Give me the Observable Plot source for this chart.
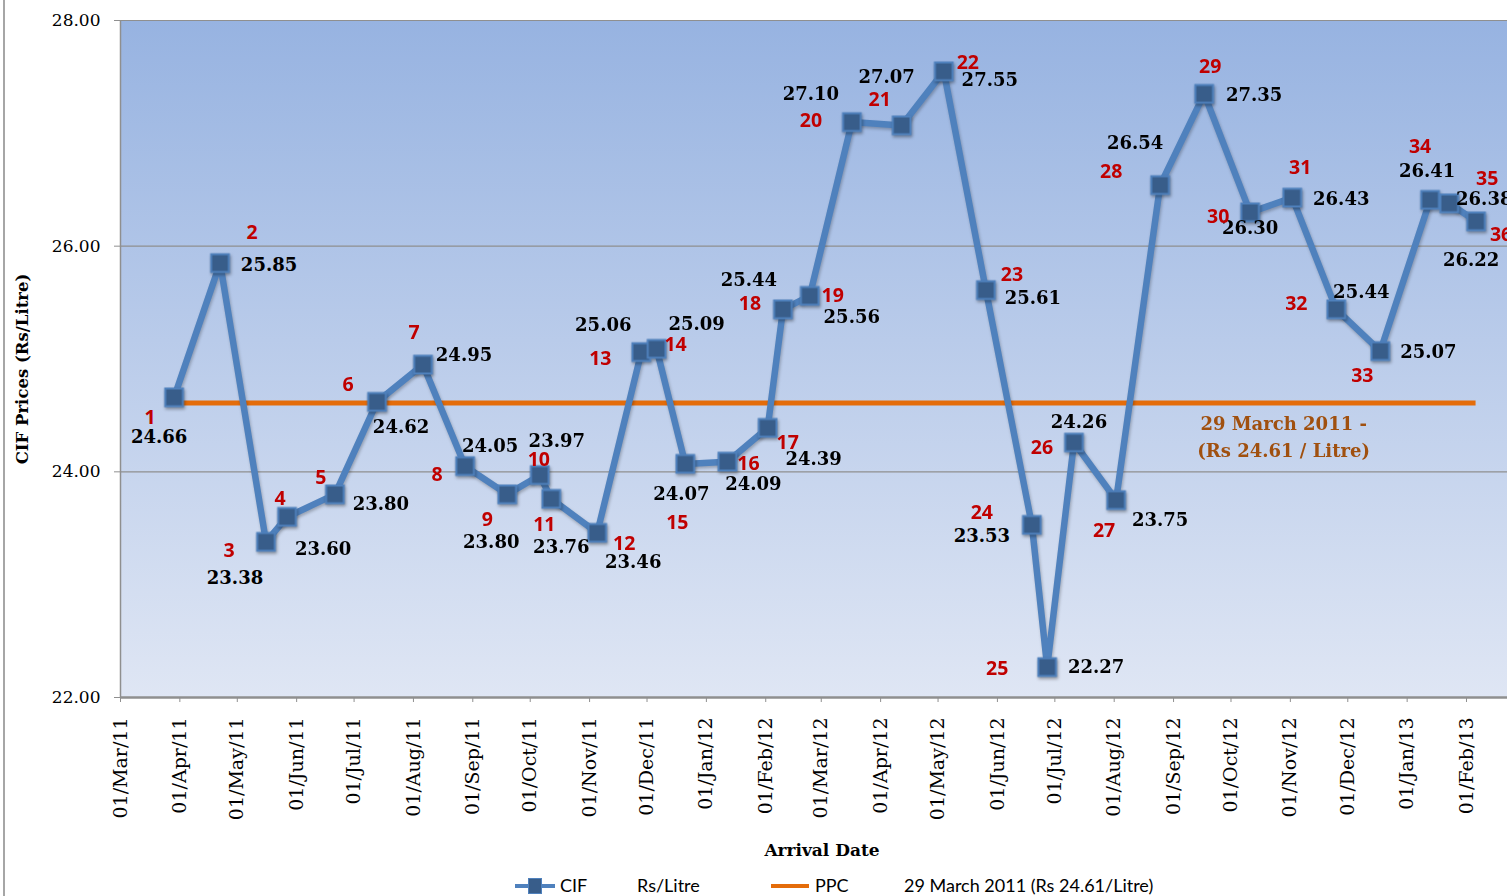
<!DOCTYPE html>
<html>
<head>
<meta charset="utf-8">
<script src="https://cdn.jsdelivr.net/npm/d3@7"></script>
<script src="https://cdn.jsdelivr.net/npm/@observablehq/plot@0.6"></script>
<style>
  html, body { margin: 0; padding: 0; background: #fff; overflow: hidden; width: 1507px; height: 896px; }
  #wrap { position: relative; width: 1507px; height: 896px; }
  #frameLine { position: absolute; left: 3px; top: 0; width: 2px; height: 896px; background: #a6a6a6; }
  #chart svg { display: block; }
  g[aria-label="dot"] { filter: drop-shadow(1.5px 2.5px 1.5px rgba(0,0,0,0.35)); }
  g[aria-label="line"] { filter: drop-shadow(1.5px 2.5px 1.5px rgba(0,0,0,0.25)); }
  #legend { position: relative; height: 24px; font-family: Lato, "Open Sans", sans-serif; font-size: 18px; color: #000; }
  #legend .it { position: absolute; top: 3px; line-height: 20px; white-space: nowrap; }
  #legend .sw-cif { position: absolute; left: 515px; top: 12px; width: 40px; height: 4px; background: #4f81bd; }
  #legend .sw-cif::after { content: ""; position: absolute; left: 13px; top: -6px; width: 12px; height: 14px; background: #385d8a; border: 1px solid #4f81bd; }
  #legend .sw-ppc { position: absolute; left: 771px; top: 12px; width: 38px; height: 4px; background: #e46c0a; }
</style>
</head>
<body>
<div id="wrap">
  <div id="chart"></div>
  <div id="legend">
    <div class="sw-cif"></div>
    <div class="it" style="left:560px">CIF</div>
    <div class="it" style="left:637px">Rs/Litre</div>
    <div class="sw-ppc"></div>
    <div class="it" style="left:815px">PPC</div>
    <div class="it" style="left:904px">29 March 2011 (Rs 24.61/Litre)</div>
  </div>
  <div id="frameLine"></div>
</div>
<script>
// ---- Data ----
const shipmentNo = [1,2,3,4,5,6,7,8,9,10,11,12,13,14,15,16,17,18,19,20,21,22,23,24,25,26,27,28,29,30,31,32,33,34,35,36];
const arrivalDates = [
  "2011-03-29","2011-04-22","2011-05-16","2011-05-27","2011-06-21","2011-07-13",
  "2011-08-06","2011-08-28","2011-09-19","2011-10-06","2011-10-12","2011-11-05",
  "2011-11-28","2011-12-06","2011-12-21","2012-01-12","2012-02-02","2012-02-10",
  "2012-02-24","2012-03-17","2012-04-12","2012-05-04","2012-05-26","2012-06-19",
  "2012-06-27","2012-07-11","2012-08-02","2012-08-25","2012-09-17","2012-10-11",
  "2012-11-02","2012-11-25","2012-12-18","2013-01-13","2013-01-23","2013-02-06"
];
const cifPrices = [
  24.66,25.85,23.38,23.60,23.80,24.62,24.95,24.05,23.80,23.97,23.76,23.46,
  25.06,25.09,24.07,24.09,24.39,25.44,25.56,27.10,27.07,27.55,25.61,23.53,
  22.27,24.26,23.75,26.54,27.35,26.30,26.43,25.44,25.07,26.41,26.38,26.22
];
const ppcPrice = 24.61;
const ppcStart = "2011-03-29";
const ppcEnd = "2013-02-06";
const ppcNote = "29 March 2011 -\n(Rs 24.61 / Litre)";
const yTicks = [22, 24, 26, 28];
const xTickDates = [
  "2011-03-01","2011-04-01","2011-05-01","2011-06-01","2011-07-01","2011-08-01",
  "2011-09-01","2011-10-01","2011-11-01","2011-12-01","2012-01-01","2012-02-01",
  "2012-03-01","2012-04-01","2012-05-01","2012-06-01","2012-07-01","2012-08-01",
  "2012-09-01","2012-10-01","2012-11-01","2012-12-01","2013-01-01","2013-02-01"
];

// ---- Label layout (pixel offsets from each marker) ----
const valueLabelOffset = [
  [-15,40],[49,2],[-31,36],[36,32],[46,10],[24,25],[41,-9],[25,-20],[-16,48],[17,-34],
  [10,48],[36,29],[-38,-27],[40,-25],[-4,30],[26,23],[46,31],[-34,-29],[42,21],[-41,-28],
  [-15,-48],[46,9],[47,8],[-50,11],[49,0],[5,-20],[44,20],[-25,-42],[50,1],[0,16],
  [49,2],[25,-17],[48,1],[-3,-29],[35,-4],[-5,39]
];
const indexLabelOffset = [
  [-24,20],[32,-30],[-37,9],[-7,-18],[-14,-17],[-29,-17],[-9,-32],[-28,9],[-20,25],[-1,-15],
  [-7,26],[27,11],[-41,7],[19,-4],[-8,59],[21,2],[20,15],[-33,-6],[23,0],[-41,-1],
  [-22,-26],[24,-9],[26,-15],[-50,-12],[-50,2],[-32,5],[-12,31],[-49,-13],[6,-27],[-32,4],
  [8,-30],[-40,-6],[-18,25],[-10,-53],[38,-25],[25,13]
];

const parse = d3.utcParse("%Y-%m-%d");
const idx = d3.range(cifPrices.length);
const X = i => parse(arrivalDates[i]);
const Y = i => cifPrices[i];

const serif = "DejaVu Serif";
const valueMarks = idx.map(i => Plot.text([i], {
  x: X, y: Y, text: j => cifPrices[j].toFixed(2),
  dx: valueLabelOffset[i][0], dy: valueLabelOffset[i][1],
  fontFamily: serif, fontWeight: "bold", fontSize: 18, fill: "#000"
}));
const indexMarks = idx.map(i => Plot.text([i], {
  x: X, y: Y, text: j => String(shipmentNo[j]),
  dx: indexLabelOffset[i][0], dy: indexLabelOffset[i][1],
  fontFamily: "Open Sans", fontWeight: "bold", fontSize: 19.5, fill: "#c00000"
}));

const chart = Plot.plot({
  width: 1507,
  height: 872,
  marginLeft: 120,
  marginRight: 0,
  marginTop: 20,
  marginBottom: 175,
  style: { fontFamily: serif, fontSize: "17px", background: "transparent", color: "#000" },
  x: { type: "utc", domain: [parse("2011-03-01"), new Date(Date.UTC(2013, 1, 22, 10))] },
  y: { domain: [22, 28] },
  marks: [
    Plot.frame({ fill: "url(#bgGrad)", stroke: null }),
    Plot.gridY(yTicks.slice(1), { stroke: "#8f8f8f", strokeOpacity: 1, strokeWidth: 1.2 }),
    Plot.axisY({ ticks: yTicks, tickFormat: d => d.toFixed(2), tickSize: 6, tickPadding: 14, label: null, stroke: "#8f8f8f", fontSize: 17 }),
    Plot.axisX({ ticks: xTickDates.map(parse), tickFormat: d3.utcFormat("%d/%b/%y"), tickRotate: -90, tickSize: 5, tickPadding: 15, label: null, stroke: "#8f8f8f", fontSize: 19 }),
    Plot.ruleX([parse("2011-03-01")], { stroke: "#8f8f8f", strokeWidth: 1.5 }),
    Plot.ruleY([22], { stroke: "#8f8f8f", strokeWidth: 2.5 }),
    Plot.ruleY([ppcPrice], { x1: parse(ppcStart), x2: parse(ppcEnd), stroke: "#e46c0a", strokeWidth: 5 }),
    Plot.line(idx, { x: X, y: Y, stroke: "#4f81bd", strokeWidth: 6.5, strokeLinejoin: "round" }),
    Plot.dot(idx, { x: X, y: Y, symbol: "square", r: 10, fill: "#385d8a", stroke: "#4f81bd", strokeWidth: 2 }),
    ...valueMarks,
    ...indexMarks,
    Plot.text([ppcNote], { x: new Date(Date.UTC(2012, 9, 28, 12)), y: ppcPrice, dy: 32, lineHeight: 1.5,
      fontFamily: serif, fontWeight: "bold", fontSize: 18, fill: "#a0500f" }),
    Plot.text(["Arrival Date"], { frameAnchor: "bottom", dx: 8, dy: 158, fontFamily: serif, fontWeight: "bold", fontSize: 17 }),
    Plot.text(["CIF Prices (Rs/Litre)"], { frameAnchor: "left", textAnchor: "middle", dx: -98, dy: 10, rotate: -90, fontFamily: serif, fontWeight: "bold", fontSize: 16.5 })
  ]
});

const ns = "http://www.w3.org/2000/svg";
const defs = document.createElementNS(ns, "defs");
defs.innerHTML = '<linearGradient id="bgGrad" x1="0" y1="0" x2="0" y2="1">' +
  '<stop offset="0" stop-color="#97b3e1"/><stop offset="1" stop-color="#dfe6f4"/></linearGradient>';
chart.insertBefore(defs, chart.firstChild);
document.getElementById("chart").appendChild(chart);
</script>
</body>
</html>
